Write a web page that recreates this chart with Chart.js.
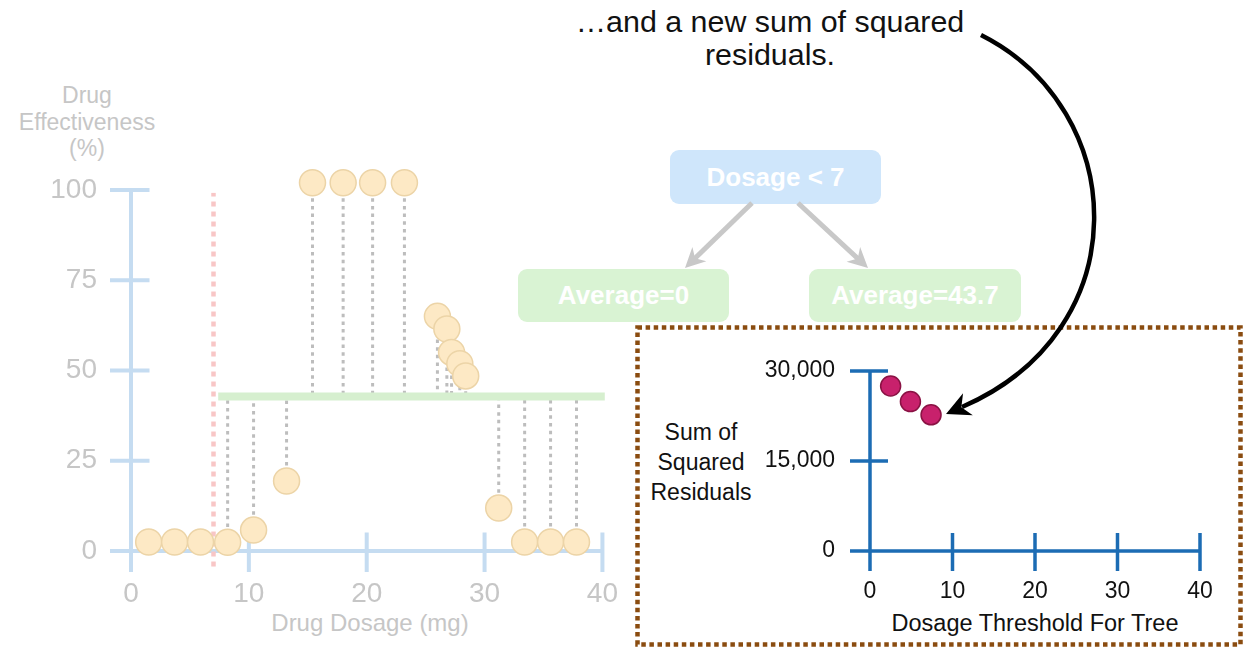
<!DOCTYPE html>
<html>
<head>
<meta charset="utf-8">
<script src="https://cdn.jsdelivr.net/npm/chart.js@4.4.1/dist/chart.umd.min.js"></script>
<style>
  html, body { margin: 0; padding: 0; background: #fff; }
  body { width: 1252px; height: 664px; position: relative; overflow: hidden;
         font-family: "Liberation Sans", Arial, sans-serif; }
  .abs { position: absolute; }
  #leftChart { left: 0; top: 0; }
  #rightChart { left: 640px; top: 300px; }
  .caption { left: 520px; width: 500px; top: 5px; font-size: 30.4px; line-height: 33px;
             text-align: center; color: #111; }
  .faded { color: #c6c6c6; text-align: center; }
  .dark { color: #111; text-align: center; }
  .node { border-radius: 9px; color: #fff; font-weight: bold; font-size: 26px;
          display: flex; align-items: center; justify-content: center; }
  #overlay { left: 0; top: 0; pointer-events: none; }
</style>
</head>
<body>
<div class="abs caption">…and a new sum of squared<br>residuals.</div>

<div class="abs faded" style="left:7px;width:160px;top:82px;font-size:23px;line-height:26.5px;">Drug<br>Effectiveness<br>(%)</div>
<div class="abs faded" style="left:220px;width:300px;top:608px;font-size:24px;line-height:30px;">Drug Dosage (mg)</div>

<div class="abs node" style="left:670px;top:150px;width:211px;height:54px;background:#cfe6fb;">Dosage &lt; 7</div>
<div class="abs node" style="left:518px;top:269px;width:211px;height:53px;background:#d9f3d3;">Average=0</div>
<div class="abs node" style="left:809px;top:269px;width:212px;height:53px;background:#d9f3d3;">Average=43.7</div>

<div class="abs dark" style="left:631px;width:140px;top:417px;font-size:23px;line-height:30px;">Sum of<br>Squared<br>Residuals</div>
<div class="abs dark" style="left:860px;width:350px;top:608px;font-size:23.5px;line-height:30px;">Dosage Threshold For Tree</div>

<canvas id="leftChart" class="abs" width="644" height="664"></canvas>
<canvas id="rightChart" class="abs" width="600" height="330"></canvas>

<svg id="overlay" class="abs" width="1252" height="664" xmlns="http://www.w3.org/2000/svg">
  <rect x="637.5" y="327.5" width="603" height="317" fill="none" stroke="#8a4c10" stroke-width="4.5" stroke-dasharray="4.5 3.6"/>
  <g id="treeArrows" stroke="#c8c8c8" stroke-width="5" fill="#c8c8c8"></g>
  <path d="M 981 35 C 1130 110, 1140 330, 962 407" fill="none" stroke="#000" stroke-width="4.5"/>
  <g id="bigHead" fill="#000"></g>
</svg>

<script>
// left plot data
const dosage = [1.5, 3.7, 5.9, 8.2, 10.4, 13.2, 15.4, 18.0, 20.5, 23.2,
                26.0, 26.8, 27.2, 27.9, 28.4, 31.2, 33.4, 35.6, 37.8];
const effectiveness = [2.5, 2.5, 2.5, 2.4, 5.8, 19.4, 102, 102, 102, 102,
                       65, 61.5, 55, 51.9, 48.5, 11.9, 2.5, 2.5, 2.5];
const threshold = 7;
const thresholdSpan = [-4.3, 99.2];
const meanRight = 42.8;
const meanSpan = [7.4, 40.2];
const leftXTicks = [0, 10, 20, 30, 40];
const leftYTicks = [0, 25, 50, 75, 100];

// right plot data
const thresholds = [2.5, 4.9, 7.4];
const ssr = [27500, 24900, 22700];
const rightXTicks = [0, 10, 20, 30, 40];
const rightYTicks = [0, 15000, 30000];

// axes drawn as crossing lines with ticks on both sides
const crossAxes = {
    id: "crossAxes",
    beforeDatasetsDraw(chart, args, o) {
        const ctx = chart.ctx, xs = chart.scales.x, ys = chart.scales.y;
        const x0 = xs.getPixelForValue(xs.min), x1 = xs.getPixelForValue(xs.max);
        const y0 = ys.getPixelForValue(ys.min), y1 = ys.getPixelForValue(ys.max);
        ctx.save();
        ctx.strokeStyle = o.color;
        ctx.lineWidth = o.width;
        ctx.lineCap = "butt";
        ctx.beginPath();
        ctx.moveTo(x0 - o.out, y0); ctx.lineTo(x1 + o.width / 2, y0);
        ctx.moveTo(x0, y1); ctx.lineTo(x0, y0 + o.out);
        ys.ticks.forEach(function (t) {
            if (t.value === ys.min) return;
            const p = ys.getPixelForValue(t.value);
            ctx.moveTo(x0 - o.out, p); ctx.lineTo(x0 + o.inn, p);
        });
        xs.ticks.forEach(function (t) {
            if (t.value === xs.min) return;
            const p = xs.getPixelForValue(t.value);
            ctx.moveTo(p, y0 - o.inn); ctx.lineTo(p, y0 + o.out);
        });
        ctx.stroke();
        ctx.restore();
    }
};

function fixedScales(xTicks, yTicks, yWidth, xHeight, font, color, yPad, xPad, fmt) {
    return {
        x: {
            type: "linear", min: xTicks[0], max: xTicks[xTicks.length - 1],
            afterBuildTicks: function (s) { s.ticks = xTicks.map(function (v) { return { value: v }; }); },
            afterFit: function (s) { s.height = xHeight; },
            grid: { display: false, drawTicks: false }, border: { display: false },
            ticks: { font: font, color: color, padding: xPad, maxRotation: 0 }
        },
        y: {
            type: "linear", min: yTicks[0], max: yTicks[yTicks.length - 1],
            afterBuildTicks: function (s) { s.ticks = yTicks.map(function (v) { return { value: v }; }); },
            afterFit: function (s) { s.width = yWidth; },
            grid: { display: false, drawTicks: false }, border: { display: false },
            ticks: { font: font, color: color, padding: yPad, callback: fmt }
        }
    };
}

// residual dotted lines from each point right of the threshold to the mean
const residualSets = [];
dosage.forEach(function (d, i) {
    if (d <= threshold) return;
    residualSets.push({
        data: [{ x: d, y: effectiveness[i] }, { x: d, y: meanRight }],
        showLine: true, borderColor: "#bdbdbd", borderWidth: 3, borderDash: [3.5, 4.2],
        pointRadius: 0, order: 4
    });
});

new Chart(document.getElementById("leftChart"), {
    type: "scatter",
    data: {
        datasets: [
            {
                data: dosage.map(function (d, i) { return { x: d, y: effectiveness[i] }; }),
                pointRadius: 13, backgroundColor: "#fde9c5", borderColor: "#ecd4a7",
                borderWidth: 1.5, order: 0
            },
            {
                data: [{ x: meanSpan[0], y: meanRight }, { x: meanSpan[1], y: meanRight }],
                showLine: true, borderColor: "#d6efcf", borderWidth: 8, pointRadius: 0, order: 1
            },
            {
                data: [{ x: threshold, y: thresholdSpan[0] }, { x: threshold, y: thresholdSpan[1] }],
                showLine: true, borderColor: "#f8c6c6", borderWidth: 4.5, borderDash: [5, 5],
                pointRadius: 0, order: 2
            }
        ].concat(residualSets)
    },
    options: {
        responsive: false, animation: false, clip: false,
        layout: { padding: { left: 0, top: 190, right: 38, bottom: 0 } },
        scales: fixedScales(leftXTicks, leftYTicks, 131, 113,
            { family: "Liberation Sans", size: 28 }, "#c6c6c6", 34, 26),
        plugins: {
            legend: { display: false }, tooltip: { enabled: false },
            crossAxes: { color: "#c5dcf1", width: 4, out: 21, inn: 18.5 }
        }
    },
    plugins: [crossAxes]
});

new Chart(document.getElementById("rightChart"), {
    type: "scatter",
    data: {
        datasets: [{
            data: thresholds.map(function (t, i) { return { x: t, y: ssr[i] }; }),
            pointRadius: 10, backgroundColor: "#c8216c", borderColor: "#8a1244", borderWidth: 1.5
        }]
    },
    options: {
        responsive: false, animation: false, clip: false,
        layout: { padding: { left: 0, top: 71, right: 40, bottom: 0 } },
        scales: fixedScales(rightXTicks, rightYTicks, 230, 79,
            { family: "Liberation Sans", size: 23 }, "#111", 35, 27,
            function (v) { return Number(v).toLocaleString("en-US"); }),
        plugins: {
            legend: { display: false }, tooltip: { enabled: false },
            crossAxes: { color: "#1c6cb4", width: 3.5, out: 20, inn: 18 }
        }
    },
    plugins: [crossAxes]
});

// annotation arrows
function head(tx, ty, dx, dy, len, half) {
    const n = Math.hypot(dx, dy); dx /= n; dy /= n;
    const bx = tx - dx * len, by = ty - dy * len;
    const nx = -dy, ny = dx;
    const mx = tx - dx * len * 0.7, my = ty - dy * len * 0.7;
    return [tx + "," + ty, (bx + nx * half) + "," + (by + ny * half),
            mx + "," + my, (bx - nx * half) + "," + (by - ny * half)].join(" ");
}
const ns = "http://www.w3.org/2000/svg";
const tree = document.getElementById("treeArrows");
[[752, 203, 685, 268], [798, 203, 868, 268]].forEach(function (a) {
    const dx = a[2] - a[0], dy = a[3] - a[1], n = Math.hypot(dx, dy);
    const line = document.createElementNS(ns, "line");
    line.setAttribute("x1", a[0]); line.setAttribute("y1", a[1]);
    line.setAttribute("x2", a[2] - dx / n * 10); line.setAttribute("y2", a[3] - dy / n * 10);
    tree.appendChild(line);
    const poly = document.createElementNS(ns, "polygon");
    poly.setAttribute("points", head(a[2], a[3], dx, dy, 20, 10));
    poly.setAttribute("stroke", "none");
    tree.appendChild(poly);
});
const big = document.createElementNS(ns, "polygon");
big.setAttribute("points", head(946, 414, -0.914, 0.406, 24, 12));
document.getElementById("bigHead").appendChild(big);
</script>
</body>
</html>
